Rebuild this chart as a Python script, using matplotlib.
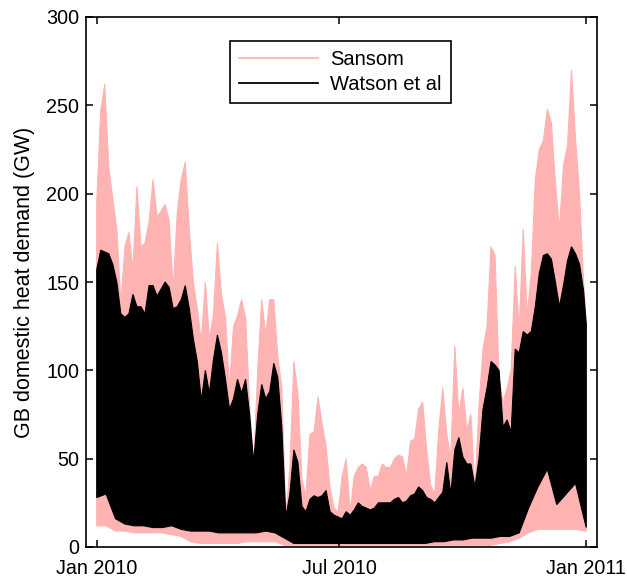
import numpy as np
import matplotlib
matplotlib.use("Agg")
import matplotlib.pyplot as plt
import matplotlib.dates as mdates
from matplotlib.lines import Line2D

plt.rcParams['font.family'] = ['Liberation Sans', 'DejaVu Sans']

# ---- data (GW) ----
start = np.datetime64('2010-01-01')
# daily-peak envelope, sampled every 3 days (last point = 31 Dec 2010)
max_days = list(range(0, 364, 3)) + [365]
sansom_max = [195, 247, 262, 215, 197, 180, 138, 170, 178, 157, 204, 170, 172, 184, 208, 187,
              190, 194, 185, 145, 189, 208, 218, 180, 150, 135, 116, 150, 118, 131, 172, 143,
              130, 90, 125, 131, 140, 130, 80, 45, 100, 140, 120, 140, 140, 108, 90, 17,
              45, 105, 87, 38, 29, 64, 65, 85, 70, 57, 33, 22, 20, 40, 50, 20,
              40, 45, 47, 45, 32, 40, 40, 47, 45, 45, 50, 52, 51, 40, 60, 61,
              78, 82, 55, 35, 30, 66, 90, 64, 50, 114, 75, 90, 66, 75, 32, 80,
              112, 125, 170, 165, 95, 82, 90, 100, 159, 123, 180, 131, 155, 208, 225, 230,
              248, 240, 206, 180, 216, 227, 270, 231, 200, 150, 127]
watson_max = [157, 168, 167, 166, 160, 150, 132, 130, 132, 143, 136, 136, 132, 148, 148, 142,
              146, 150, 147, 135, 136, 140, 148, 135, 118, 105, 83, 100, 87, 106, 120, 110,
              95, 78, 84, 95, 87, 95, 75, 48, 75, 92, 84, 88, 104, 96, 68, 17,
              30, 55, 48, 23, 20, 27, 29, 28, 29, 32, 20, 18, 17, 16, 20, 18,
              21, 25, 23, 22, 21, 22, 25, 25, 25, 25, 27, 28, 25, 26, 29, 30,
              34, 32, 28, 27, 25, 28, 31, 48, 30, 55, 62, 51, 47, 47, 34, 50,
              78, 90, 105, 103, 100, 68, 72, 65, 112, 110, 122, 120, 122, 136, 155, 165,
              166, 163, 150, 136, 148, 162, 170, 166, 160, 145, 126]

# daily-trough envelope, sampled weekly (last point = 31 Dec 2010)
min_days = list(range(0, 365, 7)) + [365]
sansom_min = [12, 12, 9, 9, 8, 8, 8, 8, 7, 6, 3, 2, 2, 2, 2, 2,
              3, 3, 3, 3, 1, 1, 1, 1, 1, 1, 1, 1, 1, 1, 1, 1,
              1, 1, 1, 1, 1, 1, 1, 1, 1, 1, 1, 2, 3, 5, 8, 10,
              10, 10, 10, 10, 9, 9]
watson_min = [28, 30, 16, 13, 12, 12, 11, 11, 12, 10, 9, 9, 9, 8, 8, 8,
              8, 8, 9, 8, 5, 2, 2, 2, 2, 2, 2, 2, 2, 2, 2, 2,
              2, 2, 2, 2, 3, 3, 4, 4, 5, 5, 5, 6, 6, 8, 22, 34,
              44, 24, 30, 36, 14, 11]

series_names = ['Sansom', 'Watson et al']
series_colors = ['#ffb3b3', '#000000']

# ---- figure ----
fig = plt.figure(figsize=(6.27, 5.8), dpi=100)
ax = fig.add_axes([86/627, 33/580, 511/627, 530/580])

tmax = mdates.date2num(start + np.array(max_days).astype('timedelta64[D]'))
tmin = mdates.date2num(start + np.array(min_days).astype('timedelta64[D]'))

for hi, lo, col in [(sansom_max, sansom_min, series_colors[0]),
                    (watson_max, watson_min, series_colors[1])]:
    xs = np.concatenate([tmax, tmin[::-1]])
    ys = np.concatenate([np.array(hi, float), np.array(lo, float)[::-1]])
    ax.fill(xs, ys, color=col, lw=0.8, ec=col)

ax.set_xlim(mdates.date2num(np.datetime64('2009-12-24')),
            mdates.date2num(np.datetime64('2011-01-09')))
ax.set_ylim(0, 300)
xt = [np.datetime64('2010-01-01'), np.datetime64('2010-07-01'), np.datetime64('2011-01-01')]
ax.set_xticks(mdates.date2num(xt))
ax.set_xticklabels(['Jan 2010', 'Jul 2010', 'Jan 2011'])
ax.set_yticks(range(0, 301, 50))
ax.tick_params(direction='in', top=True, right=True, length=5, width=1.1,
               labelsize=14.2, colors='black')
ax.tick_params(axis='x', pad=9)
ax.tick_params(axis='y', pad=5)
for s in ax.spines.values():
    s.set_linewidth(1.2)
ax.set_ylabel('GB domestic heat demand (GW)', fontsize=15.5, labelpad=8)

handles = [Line2D([], [], color=c, lw=1.3) for c in series_colors]
leg = ax.legend(handles, series_names, loc='upper center', bbox_to_anchor=(0.498, 0.955),
                borderaxespad=0, fontsize=14.5, handlelength=3.9, handletextpad=0.6,
                labelspacing=0.3, borderpad=0.45, fancybox=False, framealpha=1)
leg.get_frame().set_edgecolor('black')
leg.get_frame().set_linewidth(1.2)

fig.savefig('out.png', dpi=100)
